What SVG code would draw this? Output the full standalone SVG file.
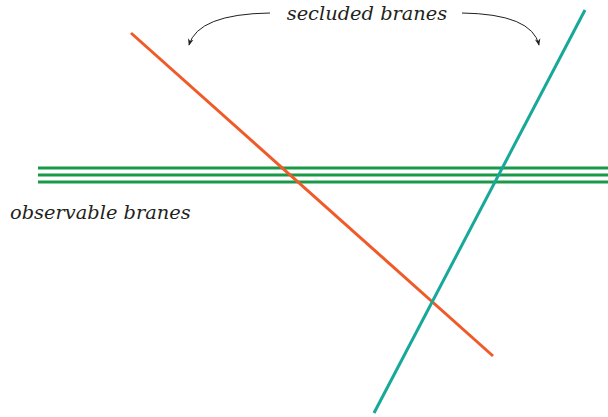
<svg xmlns="http://www.w3.org/2000/svg" width="608" height="417" viewBox="0 0 608 417">
<style>
.lbl{font-family:'DejaVu Serif',serif;font-style:italic;font-size:19.4px;fill:#231f20}
.g{stroke:#1a9a48;stroke-width:3;fill:none}
.arr{stroke:#231f20;stroke-width:1;fill:none;marker-end:url(#ah)}
</style>
<defs>
<marker id="ah" viewBox="0 0 10 10" refX="9" refY="5" markerWidth="7" markerHeight="7" orient="auto" markerUnits="userSpaceOnUse">
<path d="M0,1 L10,5 L0,9 L3,5 Z" fill="#231f20"/>
</marker>
</defs>
<g id="observable">
<line class="g" x1="38" y1="168" x2="608" y2="168"/>
<line class="g" x1="38" y1="175" x2="608" y2="175"/>
<line class="g" x1="38" y1="182" x2="608" y2="182"/>
</g>
<g id="orange-brane"><line x1="131" y1="33" x2="493" y2="356" stroke="#f05a28" stroke-width="3"/></g>
<g id="teal-brane"><line x1="585" y1="10" x2="374" y2="413" stroke="#17a89a" stroke-width="3"/></g>
<g id="connectors">
<path class="arr" d="M270,13 Q198,14 189,45"/>
<path class="arr" d="M462,13 Q532,14 539,45"/>
</g>
<g id="label-secluded"><text class="lbl" x="367" y="20" text-anchor="middle">secluded branes</text></g>
<g id="label-observable"><text class="lbl" x="10" y="219">observable branes</text></g>
</svg>
